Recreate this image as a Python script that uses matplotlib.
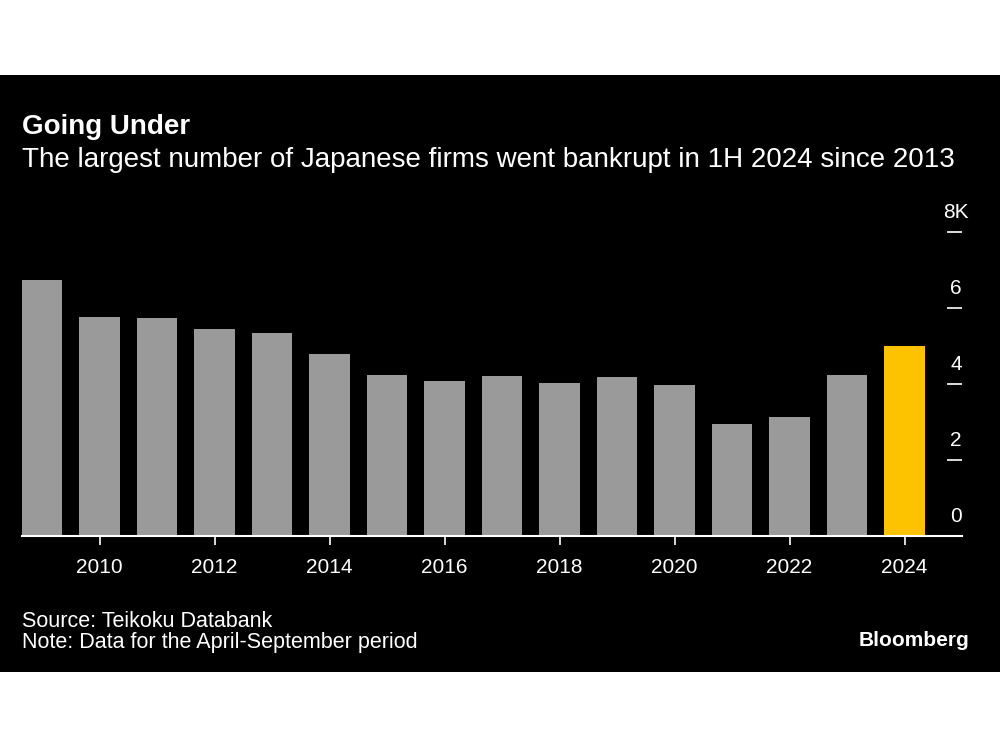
import matplotlib
matplotlib.use('Agg')
import matplotlib.pyplot as plt
import matplotlib.transforms as mtransforms
from matplotlib.patches import Rectangle

# bankruptcies, April-September, thousands
aYear = [2009, 2010, 2011, 2012, 2013, 2014, 2015, 2016,
         2017, 2018, 2019, 2020, 2021, 2022, 2023, 2024]
aCount = [6.72, 5.75, 5.73, 5.44, 5.33, 4.77, 4.22, 4.07,
          4.21, 4.02, 4.18, 3.96, 2.94, 3.13, 4.22, 4.99]
aXtick = [2010, 2012, 2014, 2016, 2018, 2020, 2022, 2024]
aYtick = [0, 2, 4, 6, 8]
aYtick_label = ['0', '2', '4', '6', '8K']

sFont = ['Liberation Sans', 'DejaVu Sans']
plt.rcParams['font.family'] = sFont

fig = plt.figure(figsize=(10, 7.5), dpi=100)
fig.patch.set_facecolor('white')
# black card
fig.patches.append(Rectangle((0, 78 / 750), 1, 597 / 750, transform=fig.transFigure,
                             facecolor='black', edgecolor='none', zorder=-5))

ax = fig.add_axes([0.022, 0.286, 0.94, 0.4053])
ax.set_facecolor('none')
ax.set_zorder(2)

aColor = ['#9a9a9a'] * (len(aYear) - 1) + ['#fdc300']
ax.bar(aYear, aCount, width=0.7, color=aColor, zorder=2)

ax.set_xlim(2008.65, 2025.0)
ax.set_ylim(0, 8)

for s in ['top', 'left', 'right']:
    ax.spines[s].set_visible(False)
ax.spines['bottom'].set_color('white')
ax.spines['bottom'].set_linewidth(1.5)
ax.spines['bottom'].set_zorder(3)

ax.set_xticks(aXtick)
ax.set_xticklabels([str(x) for x in aXtick])
ax.tick_params(axis='x', colors='white', length=6.5, width=1.2, pad=9.5,
               labelsize=15)

ax.yaxis.tick_right()
ax.set_yticks(aYtick)
ax.set_yticklabels([])
ax.tick_params(axis='y', colors='white', direction='in', length=11, width=1.2)

offset = mtransforms.offset_copy(ax.get_yaxis_transform(), fig=fig, x=0, y=10, units='dots')
for v, sLabel in zip(aYtick, aYtick_label):
    ax.text(0.9936, v, sLabel, transform=offset, ha='center', va='bottom',
            color='white', fontsize=15, clip_on=False)

fig.text(0.022, 0.8215, 'Going Under', color='white', fontsize=20,
         fontweight='bold', va='baseline')
fig.text(0.022, 0.7775, 'The largest number of Japanese firms went bankrupt in 1H 2024 since 2013',
         color='white', fontsize=20, va='baseline')
fig.text(0.022, 0.1645, 'Source: Teikoku Databank', color='white', fontsize=15.5, va='baseline')
fig.text(0.022, 0.1355, 'Note: Data for the April-September period', color='white',
         fontsize=15.5, va='baseline')
fig.text(0.969, 0.139, 'Bloomberg', color='white', fontsize=15, fontweight='bold',
         ha='right', va='baseline')

plt.savefig('out.png', dpi=100)
